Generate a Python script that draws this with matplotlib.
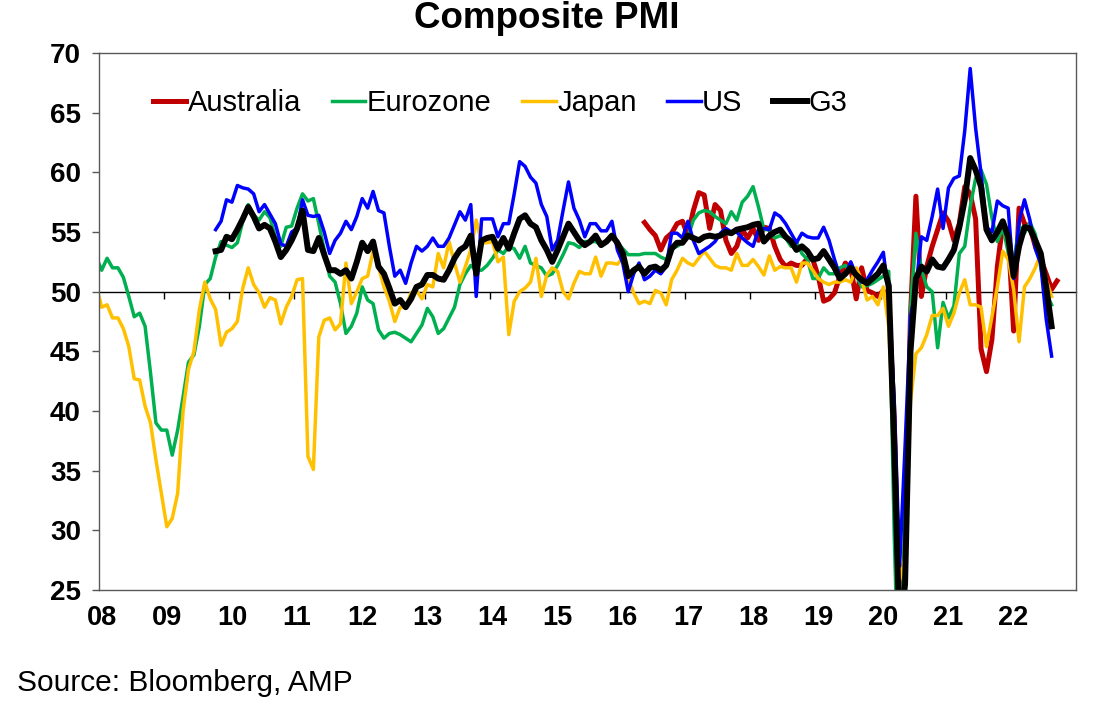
import matplotlib
matplotlib.use('Agg')
import matplotlib.pyplot as plt
import numpy as np

plt.rcParams['font.family'] = ['Liberation Sans', 'DejaVu Sans']

# composite PMI, monthly. month index 0 = Jan 2008, points sit mid-month
ez_first = -1   # Dec 2007
eurozone = [52.9,
    51.8, 52.8, 52.0, 52.0, 51.2, 49.6, 47.9, 48.2, 47.1, 43.2, 39.0, 38.4,
    38.4, 36.3, 38.4, 41.2, 44.1, 44.7, 47.1, 50.6, 51.1, 52.9, 54.2, 53.9,
    53.7, 54.1, 55.9, 57.3, 56.4, 56.0, 56.7, 56.2, 54.6, 53.8, 55.4, 55.5,
    57.0, 58.2, 57.6, 57.8, 55.7, 53.5, 51.3, 50.8, 49.0, 46.5, 47.1, 48.2,
    50.4, 49.3, 49.0, 46.8, 46.1, 46.5, 46.6, 46.4, 46.1, 45.8, 46.5, 47.2,
    48.6, 47.9, 46.5, 46.9, 47.8, 48.7, 50.6, 51.5, 52.2, 51.8, 51.8, 52.2,
    52.8, 53.5, 53.2, 53.8, 53.6, 52.8, 53.8, 52.4, 52.2, 52.0, 51.3, 51.5,
    52.2, 53.1, 54.1, 54.0, 53.7, 54.2, 54.2, 54.2, 53.9, 54.3, 54.6, 54.1,
    53.6, 53.1, 53.1, 53.1, 53.2, 53.2, 53.2, 52.9, 52.7, 53.6, 53.8, 54.1,
    54.6, 56.0, 56.6, 56.8, 56.7, 56.3, 56.0, 55.7, 56.7, 56.0, 57.5, 58.0,
    58.8, 57.1, 55.2, 55.2, 54.5, 54.7, 54.5, 53.8, 54.1, 53.2, 52.7, 51.1,
    51.1, 52.0, 51.5, 51.5, 52.0, 52.2, 51.8, 51.4, 50.4, 50.5, 50.7, 51.0,
    51.3, 51.7, 29.7, 13.6, 31.9, 48.5, 54.9, 51.9, 50.4, 50.0, 45.3, 49.1,
    47.8, 48.8, 53.2, 53.8, 57.1, 59.5, 60.2, 59.0, 56.2, 54.2, 55.4, 53.3,
    52.3, 55.5, 54.9, 55.8, 54.8, 52.0, 49.9, 48.9]

jp_first = -1   # Dec 2007
japan = [50.5,
    48.7, 48.9, 47.8, 47.8, 46.9, 45.4, 42.7, 42.6, 40.4, 39.0, 35.9, 33.1,
    30.3, 31.0, 33.1, 40.0, 43.5, 45.0, 48.5, 50.8, 49.4, 48.5, 45.5, 46.6,
    46.9, 47.5, 50.3, 52.0, 50.6, 49.9, 48.7, 49.5, 49.3, 47.3, 48.7, 49.6,
    51.0, 51.1, 36.2, 35.1, 46.2, 47.6, 47.8, 46.8, 47.3, 52.4, 49.0, 50.0,
    51.1, 51.3, 53.4, 52.1, 50.4, 49.2, 47.5, 48.7, 48.7, 49.9, 50.1, 49.4,
    50.6, 50.4, 53.2, 52.0, 54.2, 52.4, 50.8, 52.1, 53.5, 56.0, 54.1, 54.1,
    54.2, 52.5, 52.9, 46.4, 49.2, 50.0, 50.3, 50.8, 52.8, 49.6, 51.4, 52.0,
    51.7, 50.0, 49.4, 50.7, 51.7, 51.5, 51.5, 52.9, 51.3, 52.4, 52.4, 52.3,
    52.8, 51.1, 49.9, 49.0, 49.2, 49.0, 50.1, 49.9, 48.9, 51.0, 51.8, 52.8,
    52.4, 52.2, 52.8, 53.4, 52.8, 52.2, 52.0, 52.0, 51.8, 53.2, 52.2, 52.2,
    52.7, 52.1, 51.4, 53.0, 51.8, 52.1, 52.0, 52.0, 50.8, 52.4, 52.4, 51.8,
    51.1, 50.8, 50.6, 50.8, 50.8, 51.0, 50.8, 52.0, 51.0, 49.3, 49.6, 48.9,
    50.4, 47.0, 36.2, 25.8, 27.8, 40.8, 44.8, 45.3, 46.4, 48.0, 48.0, 48.6,
    47.1, 48.2, 49.9, 51.0, 48.9, 48.9, 48.7, 45.4, 47.9, 50.4, 53.4, 52.7,
    50.2, 45.8, 50.4, 51.1, 52.0, 53.2, 51.0, 49.6]

us_first = 21   # Oct 2009
us = [55.2, 55.9, 57.7,
    57.5, 58.9, 58.7, 58.6, 58.2, 56.7, 57.3, 56.5, 55.7, 54.0, 53.8, 55.0,
    55.3, 57.7, 56.4, 56.3, 56.4, 55.0, 53.2, 54.3, 54.9, 55.9, 55.2, 56.3,
    57.8, 57.0, 58.4, 56.8, 56.6, 53.8, 51.3, 51.8, 50.7, 52.4, 53.8, 53.4,
    53.8, 54.5, 53.8, 53.8, 54.5, 55.6, 56.7, 56.0, 57.3, 49.6, 56.1, 56.1,
    56.1, 54.6, 55.7, 55.7, 58.2, 60.9, 60.5, 59.6, 59.1, 57.3, 56.3, 53.5,
    54.3, 56.8, 59.2, 57.0, 56.0, 54.6, 55.7, 55.7, 55.1, 55.1, 55.9, 53.5,
    52.4, 50.0, 51.5, 52.4, 51.0, 51.3, 51.8, 51.5, 52.1, 54.9, 54.9, 54.5,
    55.9, 54.3, 53.2, 53.5, 53.8, 54.2, 54.9, 55.3, 55.0, 55.0, 54.5, 54.1,
    53.8, 55.2, 55.3, 55.2, 56.6, 56.3, 55.7, 54.9, 54.1, 54.9, 54.6, 54.5,
    54.5, 55.4, 54.3, 52.7, 51.3, 51.4, 52.5, 51.4, 50.8, 51.0, 51.8, 52.5,
    53.3, 49.6, 40.9, 27.0, 37.0, 47.9, 50.3, 54.6, 54.3, 56.3, 58.6, 55.3,
    58.7, 59.5, 59.7, 63.5, 68.7, 63.7, 59.9, 55.4, 55.0, 57.6, 57.2, 57.0,
    51.1, 55.9, 57.7, 56.0, 53.6, 52.3, 47.7, 44.6]

g3_first = 21   # Oct 2009
g3 = [53.4, 53.5, 54.6,
    54.4, 55.2, 56.1, 57.1, 56.3, 55.3, 55.6, 55.3, 54.2, 52.9, 53.5, 54.3,
    55.3, 56.8, 53.5, 53.4, 54.5, 53.1, 51.8, 51.8, 51.5, 51.8, 51.1, 52.5,
    54.1, 53.4, 54.2, 52.1, 51.5, 50.3, 49.0, 49.3, 48.7, 49.4, 50.4, 50.6,
    51.4, 51.4, 51.1, 51.0, 51.8, 52.8, 53.5, 53.8, 54.7, 51.5, 54.3, 54.5,
    54.6, 53.6, 54.5, 53.6, 54.9, 56.1, 56.4, 55.7, 55.4, 54.3, 53.5, 52.5,
    53.5, 54.6, 55.7, 55.0, 54.3, 53.9, 54.2, 54.7, 53.9, 54.2, 54.7, 54.1,
    53.2, 51.3, 51.8, 52.1, 51.5, 52.0, 52.1, 51.8, 52.2, 53.6, 54.1, 54.1,
    54.7, 54.5, 54.3, 54.6, 54.7, 54.6, 54.7, 55.0, 54.9, 55.2, 55.3, 55.4,
    55.6, 55.7, 54.2, 54.7, 55.0, 55.2, 54.6, 54.2, 53.5, 53.8, 53.4, 52.7,
    52.8, 53.4, 52.7, 52.0, 51.1, 51.5, 52.0, 51.4, 51.0, 50.7, 51.1, 51.5,
    52.2, 50.5, 37.0, 21.0, 25.5, 45.0, 51.1, 52.1, 51.7, 52.7, 52.1, 52.0,
    52.7, 53.5, 55.4, 57.7, 61.2, 60.2, 58.8, 55.2, 54.3, 55.0, 55.9, 54.6,
    51.3, 53.8, 55.4, 55.3, 54.3, 53.2, 50.4, 47.1]

au_first = 100  # May 2016
australia = [55.8, 55.2, 54.7, 53.5, 54.5, 54.9, 55.7, 55.9,
    54.7, 56.8, 58.3, 58.1, 55.3, 57.3, 56.8, 54.3, 53.2, 53.8, 55.2, 54.5,
    55.3, 54.3, 55.4, 55.3, 53.8, 52.7, 52.1, 52.4, 52.2, 52.2, 52.8, 52.7,
    51.3, 49.2, 49.4, 49.9, 51.3, 52.4, 52.0, 49.4, 52.0, 50.1, 49.9, 49.6,
    50.1, 49.4, 39.4, 21.7, 28.1, 48.0, 58.0, 49.6, 52.1, 53.8, 55.2, 56.6,
    55.9, 54.3, 55.7, 58.8, 58.2, 56.1, 45.2, 43.3, 46.0, 52.1, 55.7, 54.9,
    46.7, 57.0, 55.7, 55.4, 53.8, 52.7, 51.5, 50.2, 50.9]

years = np.arange(2008, 2023)
year_labels = [f'{y % 100:02d}' for y in years]


def months(first, vals):
    return np.arange(len(vals)) + first + 0.5


fig = plt.figure(figsize=(11.13, 7.07), dpi=100)
ax = fig.add_axes([0.0889, 0.1655, 0.8779, 0.7595])

ax.plot(months(au_first, australia), australia, color='#C00000', lw=3.6, label='Australia')
ax.plot(months(ez_first, eurozone), eurozone, color='#00B050', lw=2.5, label='Eurozone')
ax.plot(months(jp_first, japan), japan, color='#FFC000', lw=2.5, label='Japan')
ax.plot(months(us_first, us), us, color='#0000FF', lw=2.5, label='US')
ax.plot(months(g3_first, g3), g3, color='black', lw=4.3, label='G3')

ax.set_xlim(0, 180)
ax.set_ylim(25, 70)

for s in ax.spines.values():
    s.set_color('#595959')
    s.set_linewidth(1)

ax.set_yticks(np.arange(25, 71, 5))
ax.tick_params(axis='y', direction='out', length=5, width=1, color='#595959',
               labelsize=20, pad=8)
ax.set_xticks((years - 2008) * 12 + 0.5)
ax.set_xticklabels(year_labels)
ax.tick_params(axis='x', length=0, labelsize=19.5, pad=11)
for t in ax.get_xticklabels() + ax.get_yticklabels():
    t.set_fontweight('bold')

# the category axis crosses at 50
sec = ax.secondary_xaxis((50 - 25) / (70 - 25))
sec.set_xticks((years[1:] - 2008) * 12)
sec.tick_params(axis='x', direction='out', length=5, width=1, color='black',
                labelbottom=False, labeltop=False, bottom=True, top=False)
for s in sec.spines.values():
    s.set_color('black')
    s.set_linewidth(1)

ax.legend(loc='center left', bbox_to_anchor=(0.055, 0.907), ncol=5, frameon=False,
          fontsize=21, handlelength=1.15, handletextpad=0.05, columnspacing=1.05,
          borderpad=0, borderaxespad=0)

fig.text(0.491, 0.9745, 'Composite PMI', ha='center', va='center',
         fontsize=26.5, fontweight='bold')
fig.text(0.015, 0.034, 'Source: Bloomberg, AMP', ha='left', va='center', fontsize=21.5)

fig.savefig('out.png', dpi=100)
